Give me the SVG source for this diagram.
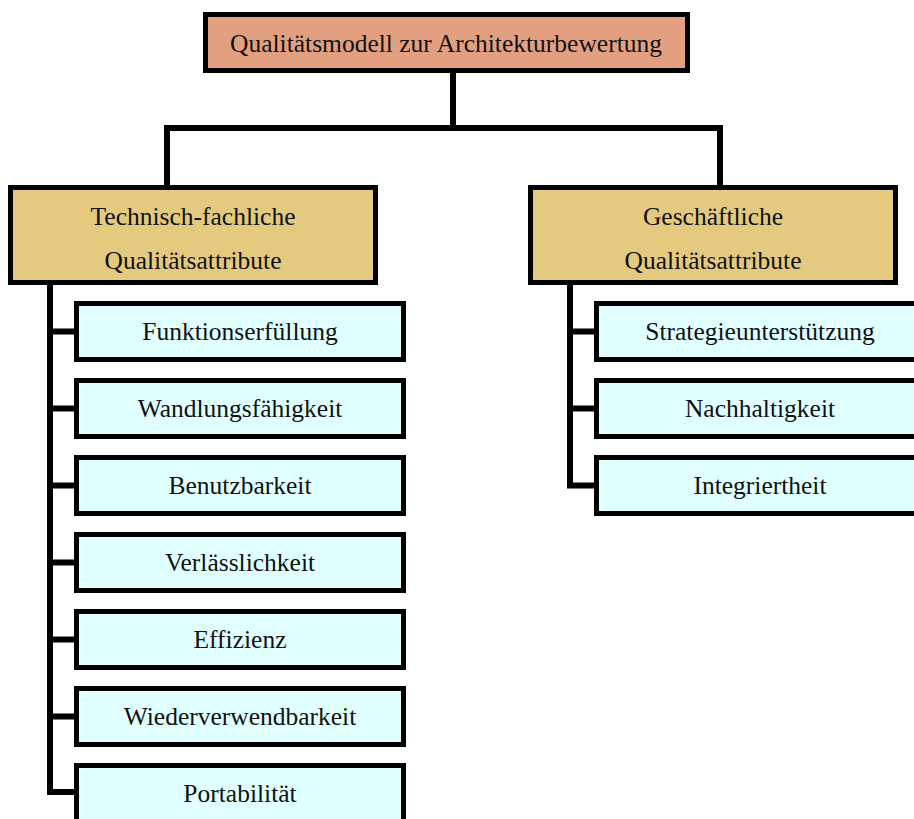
<svg xmlns="http://www.w3.org/2000/svg" width="914" height="819" viewBox="0 0 914 819">
<style>
.box{stroke:#000;stroke-width:5}
.top{fill:#E3A080}
.mid{fill:#E3CA7E}
.leaf{fill:#E0FFFF}
.t{font-family:"Liberation Serif","Times New Roman",serif;font-size:25.5px;fill:#111;text-anchor:middle}
.c{stroke:#000;stroke-width:6;fill:none;stroke-linecap:square}
</style>
<rect width="914" height="819" fill="#fff"/>
<g id="connectors">
<path class="c" d="M453 73V128M167 128H720M167 128V185M720 128V185"/>
<path class="c" d="M50 285V792M50 331.5H76M50 408.5H76M50 485.5H76M50 562.5H76M50 639.5H76M50 716.5H76M50 792H76"/>
<path class="c" d="M570 285V485.5M570 331.5H596M570 408.5H596M570 485.5H596"/>
</g>
<g id="root"><rect class="box top" x="205.5" y="14.5" width="482" height="56"/><text class="t" x="446" y="52">Qualitätsmodell zur Architekturbewertung</text></g>
<g id="tech"><rect class="box mid" x="10.5" y="187.5" width="365" height="95"/><text class="t" x="193" y="225">Technisch-fachliche</text><text class="t" x="193" y="269">Qualitätsattribute</text></g>
<g id="bus"><rect class="box mid" x="530.5" y="187.5" width="365" height="95"/><text class="t" x="713" y="225">Geschäftliche</text><text class="t" x="713" y="269">Qualitätsattribute</text></g>
<g id="l1"><rect class="box leaf" x="76.5" y="303.5" width="327" height="56"/><text class="t" x="240" y="340">Funktionserfüllung</text></g>
<g id="l2"><rect class="box leaf" x="76.5" y="380.5" width="327" height="56"/><text class="t" x="240" y="417">Wandlungsfähigkeit</text></g>
<g id="l3"><rect class="box leaf" x="76.5" y="457.5" width="327" height="56"/><text class="t" x="240" y="494">Benutzbarkeit</text></g>
<g id="l4"><rect class="box leaf" x="76.5" y="534.5" width="327" height="56"/><text class="t" x="240" y="571">Verlässlichkeit</text></g>
<g id="l5"><rect class="box leaf" x="76.5" y="611.5" width="327" height="56"/><text class="t" x="240" y="648">Effizienz</text></g>
<g id="l6"><rect class="box leaf" x="76.5" y="688.5" width="327" height="56"/><text class="t" x="240" y="725">Wiederverwendbarkeit</text></g>
<g id="l7"><rect class="box leaf" x="76.5" y="765.5" width="327" height="56"/><text class="t" x="240" y="802">Portabilität</text></g>
<g id="r1"><rect class="box leaf" x="596.5" y="303.5" width="327" height="56"/><text class="t" x="760" y="340">Strategieunterstützung</text></g>
<g id="r2"><rect class="box leaf" x="596.5" y="380.5" width="327" height="56"/><text class="t" x="760" y="417">Nachhaltigkeit</text></g>
<g id="r3"><rect class="box leaf" x="596.5" y="457.5" width="327" height="56"/><text class="t" x="760" y="494">Integriertheit</text></g>
</svg>
